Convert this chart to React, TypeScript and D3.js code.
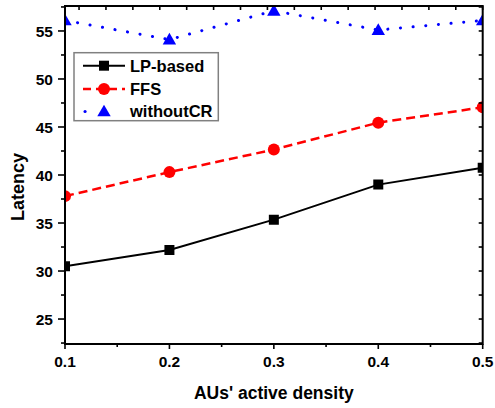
import React from "react";
import * as d3 from "d3";

const densities = [0.1, 0.2, 0.3, 0.4, 0.5];
const lpBased = [30.5, 32.2, 35.35, 39.0, 40.75];
const ffs = [37.8, 40.3, 42.65, 45.45, 47.05];
const withoutCR = [56.1, 54.1, 57.1, 55.1, 56.1];
const seriesNames = ["LP-based", "FFS", "withoutCR"];
const xTickLabels = ["0.1", "0.2", "0.3", "0.4", "0.5"];
const yTickValues = [25, 30, 35, 40, 45, 50, 55];
const yMinorValues = [22.5, 27.5, 32.5, 37.5, 42.5, 47.5, 52.5, 57.5];
const xMinorValues = [0.15, 0.25, 0.35, 0.45];

const W = 495;
const H = 408;
const L = 65, R = 482.7, T = 6, B = 344;
const FONT = "'Liberation Sans', Arial, Helvetica, sans-serif";

export default function App() {
  const x = d3.scaleLinear().domain([0.1, 0.5]).range([L, R]);
  const y = d3.scaleLinear().domain([22.4, 57.6]).range([B, T]);
  const line = d3
    .line<number>()
    .x((_, i) => x(densities[i]))
    .y((d) => y(d));

  const topTicks = d3.range(16).map((k) => 0.5 - k * 0.02577);
  const rightTicks = [...yTickValues, ...yMinorValues].filter(
    (v) => v > 22.4 && v < 57.6
  );

  const sq = d3.symbol().type(d3.symbolSquare).size(100)();
  const tri = d3.symbol().type(d3.symbolTriangle).size(78)();

  const series = [
    { name: seriesNames[0], data: lpBased, color: "#000000", width: 2, dash: "none", cap: "butt", marker: "square" },
    { name: seriesNames[1], data: ffs, color: "#ff0000", width: 2.5, dash: "9,5", cap: "butt", marker: "circle" },
    { name: seriesNames[2], data: withoutCR, color: "#0000ff", width: 3, dash: "0.1,12.6", cap: "round", marker: "triangle" },
  ];

  const marker = (type: string, color: string, cx: number, cy: number, key?: any) => {
    if (type === "square")
      return <path key={key} d={sq!} transform={`translate(${cx},${cy})`} fill={color} />;
    if (type === "circle")
      return <circle key={key} cx={cx} cy={cy} r={6} fill={color} />;
    return <path key={key} d={tri!} transform={`translate(${cx},${cy + 1})`} fill={color} />;
  };

  const legendRows = [65.7, 89, 111.5];
  const legendDash = ["none", "8,5", "none"];
  const legendX1 = [83, 83, 85];
  const legendX2 = [125, 125, 85.1];

  return (
    <div style={{ position: "fixed", left: 0, top: 0 }}>
      <svg width={W} height={H} style={{ display: "block", background: "#fff" }} fontFamily={FONT}>
        <defs>
          <clipPath id="plotClip">
            <rect x={L} y={T} width={R - L} height={B - T} />
          </clipPath>
        </defs>
        <rect x={0} y={0} width={W} height={H} fill="#fff" />

        {/* series */}
        <g clipPath="url(#plotClip)">
          {series.map((s) => (
            <path
              key={s.name}
              d={line(s.data)!}
              fill="none"
              stroke={s.color}
              strokeWidth={s.width}
              strokeDasharray={s.dash}
              strokeLinecap={s.cap as any}
            />
          ))}
          {series.map((s) =>
            s.data.map((v, i) => marker(s.marker, s.color, x(densities[i]), y(v), s.name + i))
          )}
        </g>

        {/* frame */}
        <rect x={L} y={T} width={R - L} height={B - T} fill="none" stroke="#000" strokeWidth={2} />

        {/* left axis ticks */}
        {yTickValues.map((v) => (
          <g key={"yl" + v}>
            <line x1={L - 7} x2={L} y1={y(v)} y2={y(v)} stroke="#000" strokeWidth={1.6} />
            <text
              x={L - 12}
              y={y(v)}
              dy="0.36em"
              textAnchor="end"
              fontSize={15.5}
              fontWeight="bold"
            >
              {v}
            </text>
          </g>
        ))}
        {yMinorValues
          .filter((v) => v > 22.4 && v < 57.6)
          .map((v) => (
            <line key={"ym" + v} x1={L - 4} x2={L} y1={y(v)} y2={y(v)} stroke="#000" strokeWidth={1.6} />
          ))}

        {/* right axis ticks (inward) */}
        {rightTicks.map((v) => (
          <line key={"yr" + v} x1={R - 4} x2={R} y1={y(v)} y2={y(v)} stroke="#000" strokeWidth={1.6} />
        ))}

        {/* bottom axis ticks */}
        {densities.map((v, i) => (
          <g key={"xb" + v}>
            <line x1={x(v)} x2={x(v)} y1={B} y2={B + 5} stroke="#000" strokeWidth={1.6} />
            <text x={x(v)} y={367} textAnchor="middle" fontSize={15.5} fontWeight="bold">
              {xTickLabels[i]}
            </text>
          </g>
        ))}
        {xMinorValues.map((v) => (
          <line key={"xm" + v} x1={x(v)} x2={x(v)} y1={B - 1} y2={B + 3} stroke="#000" strokeWidth={1.6} />
        ))}

        {/* top axis ticks (inward) */}
        {topTicks.map((v, i) => (
          <line key={"xt" + i} x1={x(v)} x2={x(v)} y1={T} y2={T + 4} stroke="#000" strokeWidth={1.6} />
        ))}

        {/* axis titles */}
        <text x={(L + R) / 2} y={399} textAnchor="middle" fontSize={17.5} fontWeight="bold">
          AUs' active density
        </text>
        <text
          transform={`translate(24,187) rotate(-90)`}
          textAnchor="middle"
          fontSize={18}
          fontWeight="bold"
        >
          Latency
        </text>

        {/* legend */}
        <rect x={74} y={52.7} width={144.3} height={68} fill="#fff" stroke="#808080" strokeWidth={1.5} />
        {series.map((s, i) => (
          <g key={"lg" + s.name}>
            <line
              x1={legendX1[i]}
              x2={legendX2[i]}
              y1={legendRows[i]}
              y2={legendRows[i]}
              stroke={s.color}
              strokeWidth={s.width}
              strokeDasharray={legendDash[i]}
              strokeLinecap={s.cap as any}
            />
            {marker(s.marker, s.color, 104, legendRows[i])}
            <text x={130} y={legendRows[i]} dy="0.36em" fontSize={16.5} fontWeight="bold">
              {s.name}
            </text>
          </g>
        ))}
      </svg>
    </div>
  );
}
